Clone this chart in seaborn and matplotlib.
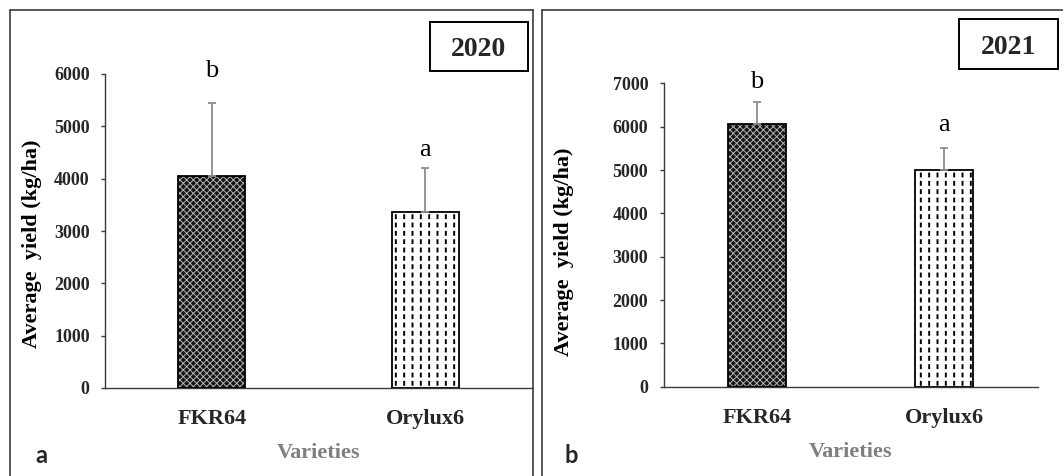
import numpy as np
import pandas as pd
import matplotlib
matplotlib.use("Agg")
import matplotlib.pyplot as plt
import seaborn as sns
from matplotlib.patches import Rectangle
from matplotlib.lines import Line2D

# ---------------- data ----------------
varieties = ["FKR64", "Orylux6"]
yield_2020 = [4060, 3370]
sd_2020 = [1390, 840]
yield_2021 = [6050, 5000]
sd_2021 = [510, 515]
letters_2020 = ["b", "a"]
letters_2021 = ["b", "a"]
years = ["2020", "2021"]
panel_tags = ["a", "b"]
yticks_2020 = [0, 1000, 2000, 3000, 4000, 5000, 6000]
yticks_2021 = [0, 1000, 2000, 3000, 4000, 5000, 6000, 7000]
ylabel_text = "Average  yield (kg/ha)"
xlabel_text = "Varieties"

# ---------------- style ----------------
sns.set_theme(style="white")
plt.rcParams["font.family"] = ["Liberation Serif", "DejaVu Serif"]
plt.rcParams["hatch.linewidth"] = 1.4

W, H = 1063, 476
fig = plt.figure(figsize=(W / 100, H / 100), dpi=100)


def fx(px):
    return px / W


def fy(py):
    return 1 - py / H


SPINE = "#3a3a3a"
ERR = "#8c8c8c"


def bar_layer(ax, df, z, hlw):
    n0 = len(ax.patches)
    with plt.rc_context({"hatch.linewidth": hlw}):
        sns.barplot(data=df, x="variety", y="yield", order=varieties, color="white",
                    width=0.315, errorbar=None, ax=ax, zorder=z)
    ps = ax.patches[n0:]
    for p in ps:
        if hasattr(p, "set_hatch_linewidth"):
            p.set_hatch_linewidth(hlw)
    return ps


def panel(box, values, errs, letters, yticks, letter_off_px, ylab_xy, xlab_y,
          year, year_box, tag_xy):
    left, right, top, bottom = box
    ax = fig.add_axes([fx(left), fy(bottom), fx(right - left), (bottom - top) / H])
    df = pd.DataFrame({"variety": varieties, "yield": values})

    # layer 1a: FKR64 dark fill with fine light cross hatch
    p = bar_layer(ax, df, 2, 0.7)
    p[0].set_facecolor("#141414")
    p[0].set_edgecolor("#b4b4b4")
    p[0].set_hatch("xxxxx")
    p[0].set_linewidth(0)
    p[1].set_visible(False)

    # layer 1b: Orylux6 white fill with vertical lines
    p = bar_layer(ax, df, 2, 1.4)
    p[0].set_visible(False)
    p[1].set_facecolor("white")
    p[1].set_edgecolor("black")
    p[1].set_hatch("||")
    p[1].set_linewidth(0)

    # layer 2: white cuts turning the vertical lines into dashes
    p = bar_layer(ax, df, 3, 2.5)
    p[0].set_visible(False)
    p[1].set_facecolor("none")
    p[1].set_edgecolor("white")
    p[1].set_hatch("--")
    p[1].set_linewidth(0)

    # layer 3: black outlines
    for q in bar_layer(ax, df, 4, 1.0):
        q.set_facecolor("none")
        q.set_edgecolor("black")
        q.set_linewidth(1.3)

    # error bars (upper only)
    xs = np.arange(len(varieties))
    ax.errorbar(xs, values, yerr=[np.zeros(len(errs)), errs], fmt="none",
                ecolor=ERR, elinewidth=1.3, capsize=3, capthick=1.3, zorder=5)

    # significance letters
    for i, (v, e, l) in enumerate(zip(values, errs, letters)):
        ax.annotate(l, xy=(i, v + e), xytext=(0, letter_off_px[i] * 0.72),
                    textcoords="offset points", ha="center", va="baseline",
                    fontsize=19, color="black")

    ax.set_xlim(-0.5, 1.5)
    ax.set_ylim(yticks[0], yticks[-1])
    ax.set_yticks(yticks)
    ax.set_yticklabels([str(t) for t in yticks], fontsize=13, fontweight="bold")
    ax.set_xticks(xs)
    ax.set_xticklabels(varieties, fontsize=16, fontweight="bold")
    ax.tick_params(axis="y", length=3, width=1, color=SPINE, pad=8, left=True)
    ax.tick_params(axis="x", length=0, pad=15)
    for s in ["top", "right"]:
        ax.spines[s].set_visible(False)
    for s in ["left", "bottom"]:
        ax.spines[s].set_color(SPINE)
        ax.spines[s].set_linewidth(1.0)
    ax.set_facecolor("none")
    ax.grid(False)

    ax.set_ylabel(ylabel_text, fontsize=16, fontweight="bold", color="black")
    ax.yaxis.label.set_va("center")
    ax.yaxis.set_label_coords(*ylab_xy)
    ax.set_xlabel(xlabel_text, fontsize=16, fontweight="bold", color="#7f7f7f")
    ax.xaxis.label.set_va("center")
    ax.xaxis.set_label_coords(0.5, xlab_y)

    # year box
    bx0, by0, bx1, by1 = year_box
    fig.add_artist(Rectangle((fx(bx0), fy(by1)), (bx1 - bx0) / W, (by1 - by0) / H,
                             transform=fig.transFigure, fill=False,
                             edgecolor="black", linewidth=1.4))
    fig.text(fx((bx0 + bx1) / 2), fy((by0 + by1) / 2), year, ha="center",
             va="center_baseline", fontsize=20, fontweight="bold")
    # panel tag
    fig.text(fx(tag_xy[0]), fy(tag_xy[1]), tag_xy[2], ha="left", va="baseline",
             fontsize=17, fontweight="bold", family=["Lato", "DejaVu Sans"])
    return ax


panel((105, 532, 74, 388), yield_2020, sd_2020, letters_2020, yticks_2020,
      [26, 11.5], (-0.172, 0.459), -0.207, years[0], (430, 22, 528, 71),
      (35, 463, panel_tags[0]))
panel((663.5, 1037.5, 83.3, 386.8), yield_2021, sd_2021, letters_2021, yticks_2021,
      [14, 16.7], (-0.266, 0.444), -0.215, years[1], (959, 19, 1058, 69),
      (565, 463, panel_tags[1]))

# outer frames
FR = "#2b2b2b"
frame_lines = [
    [(10, 10), (10, 480)], [(10, 10), (533, 10)], [(533, 10), (533, 480)],
    [(542, 10), (542, 480)], [(542, 10), (1070, 10)],
]
for (x0, y0), (x1, y1) in frame_lines:
    fig.add_artist(Line2D([fx(x0), fx(x1)], [fy(y0), fy(y1)],
                          transform=fig.transFigure, color=FR, linewidth=1.1))

fig.savefig("out.png", dpi=100)
